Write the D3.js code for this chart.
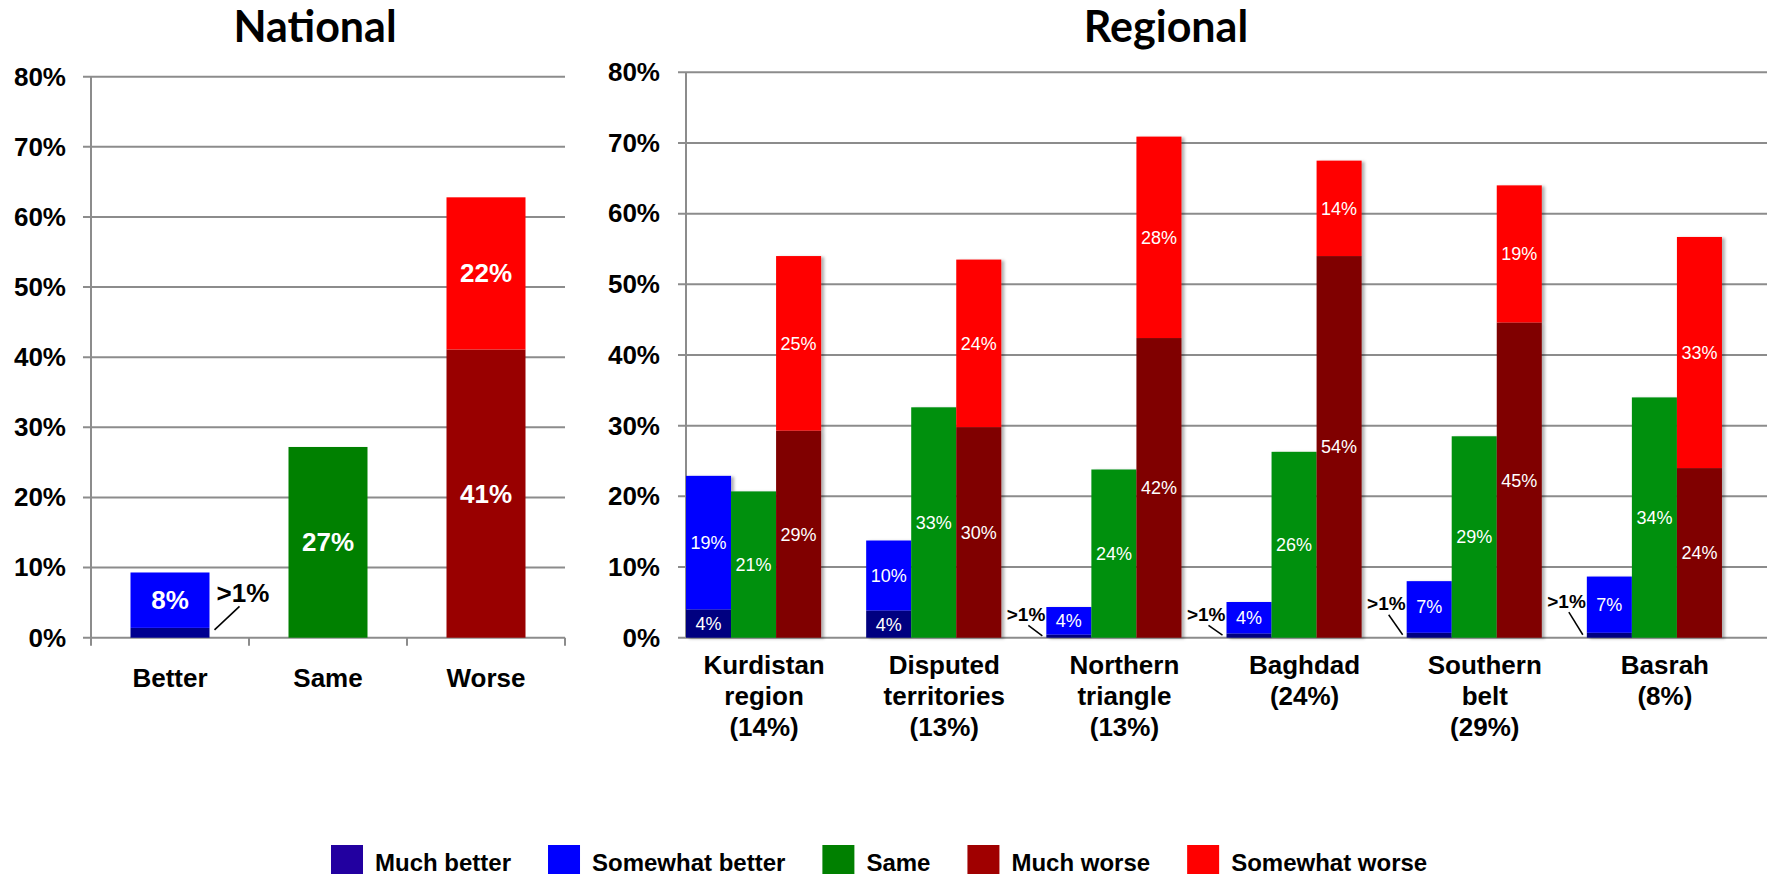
<!DOCTYPE html>
<html><head><meta charset="utf-8">
<script src="https://cdn.jsdelivr.net/npm/d3@7"></script>
<style>body{margin:0;background:#fff}svg{display:block}</style>
</head><body><svg id="chart" width="1771" height="874"></svg>
<script>
// ---------------- data ----------------
const seriesNames = ["Much better", "Somewhat better", "Same", "Much worse", "Somewhat worse"];
const yTicks = [0, 10, 20, 30, 40, 50, 60, 70, 80];

// National
const nationalCategories = ["Better", "Same", "Worse"];
const nationalSeriesCategory = ["Better", "Better", "Same", "Worse", "Worse"];
const nationalValues = [1.4, 7.9, 27.2, 41.1, 21.7];
const nationalLabels = [">1%", "8%", "27%", "41%", "22%"];

// Regional
const regionLines = [["Kurdistan", "region", "(14%)"], ["Disputed", "territories", "(13%)"], ["Northern", "triangle", "(13%)"], ["Baghdad", "(24%)"], ["Southern", "belt", "(29%)"], ["Basrah", "(8%)"]];
const regions = regionLines.map(l => l.join(" "));
const regMuchBetter = [4.0, 3.85, 0.44, 0.6, 0.7, 0.7];
const regSomewhatBetter = [18.9, 9.9, 3.9, 4.45, 7.3, 7.95];
const regSame = [20.7, 32.6, 23.8, 26.3, 28.5, 34.0];
const regMuchWorse = [29.3, 29.8, 42.4, 54.0, 44.6, 24.0];
const regSomewhatWorse = [24.7, 23.7, 28.5, 13.5, 19.4, 32.7];
const regMuchBetterLabels = ["4%", "4%", ">1%", ">1%", ">1%", ">1%"];
const regSomewhatBetterLabels = ["19%", "10%", "4%", "4%", "7%", "7%"];
const regSameLabels = ["21%", "33%", "24%", "26%", "29%", "34%"];
const regMuchWorseLabels = ["29%", "30%", "42%", "54%", "45%", "24%"];
const regSomewhatWorseLabels = ["25%", "24%", "28%", "14%", "19%", "33%"];

// ---------------- styles ----------------
const natColors = ["#000090", "#0000FF", "#008000", "#990000", "#FF0000"];
const regColors = ["#000080", "#0000FF", "#009010", "#800000", "#FF0000"];
const legendColors = ["#2200A0", "#0000FF", "#008000", "#A00000", "#FF0000"];
const gridColor = "#8c8c8c";
const boldFont = "'Liberation Sans', Arial, sans-serif";
const titleFont = "Lato, 'Open Sans', sans-serif";

const svg = d3.select("#chart");
svg.append("rect").attr("width", 1771).attr("height", 874).attr("fill", "#fff");

const defs = svg.append("defs");
const f = defs.append("filter").attr("id", "shadow").attr("x", "-10%").attr("y", "-10%").attr("width", "130%").attr("height", "130%");
f.append("feDropShadow").attr("dx", 3).attr("dy", 1).attr("stdDeviation", 1.5).attr("flood-color", "#000").attr("flood-opacity", 0.3);

// ---------------- helpers ----------------
function drawYAxis(g, y, x0, x1, padding) {
  g.append("g").selectAll("line").data(yTicks).join("line")
    .attr("x1", x0 - 8).attr("x2", x1)
    .attr("y1", d => y(d)).attr("y2", d => y(d))
    .attr("stroke", gridColor).attr("stroke-width", 2);
  const ax = g.append("g").attr("transform", `translate(${x0},0)`)
    .call(d3.axisLeft(y).tickValues(yTicks).tickFormat(d => d + "%").tickSize(0).tickPadding(padding));
  ax.select(".domain").remove();
  ax.selectAll("text").attr("font-family", boldFont).attr("font-weight", "bold")
    .attr("font-size", 26).attr("fill", "#000");
  g.append("line").attr("x1", x0).attr("x2", x0).attr("y1", y(80)).attr("y2", y(0))
    .attr("stroke", gridColor).attr("stroke-width", 2);
}

// ---------------- National ----------------
const yN = d3.scaleLinear().domain([0, 80]).range([637.7, 76.7]);
const xN = d3.scaleBand().domain(nationalCategories).range([91, 565]);
const gN = svg.append("g");
drawYAxis(gN, yN, 91, 565, 25);
const natBounds = nationalCategories.map(c => xN(c)).concat([xN.range()[1]]);
gN.append("g").selectAll("line").data(natBounds).join("line")
  .attr("x1", d => d).attr("x2", d => d).attr("y1", yN(0)).attr("y2", yN(0) + 8)
  .attr("stroke", gridColor).attr("stroke-width", 2);

const natBarW = xN.bandwidth() * 0.5;
const natCum = {};
const natSegs = nationalValues.map((v, i) => {
  const c = nationalSeriesCategory[i];
  const base = natCum[c] || 0;
  natCum[c] = base + v;
  return { cat: c, y0: base, y1: base + v, color: natColors[i], label: nationalLabels[i], series: seriesNames[i] };
});
gN.append("g").selectAll("rect").data(natSegs).join("rect")
  .attr("x", d => xN(d.cat) + (xN.bandwidth() - natBarW) / 2)
  .attr("width", natBarW)
  .attr("y", d => yN(d.y1)).attr("height", d => yN(d.y0) - yN(d.y1))
  .attr("fill", d => d.color);
gN.append("g").selectAll("text").data(natSegs.filter(d => d.label !== ">1%")).join("text")
  .attr("x", d => xN(d.cat) + xN.bandwidth() / 2)
  .attr("y", d => yN((d.y0 + d.y1) / 2) + 9)
  .attr("text-anchor", "middle").attr("font-family", boldFont).attr("font-weight", "bold")
  .attr("font-size", 26).attr("fill", "#fff").text(d => d.label);
natSegs.filter(d => d.label === ">1%").forEach(d => {
  const right = xN(d.cat) + (xN.bandwidth() + natBarW) / 2;
  const total = natCum[d.cat];
  gN.append("text").attr("x", right + 7).attr("y", yN(total * 0.55))
    .attr("font-family", boldFont).attr("font-weight", "bold").attr("font-size", 26)
    .attr("fill", "#000").text(d.label);
  gN.append("line").attr("x1", right + 5).attr("y1", yN(d.y1 * 0.8))
    .attr("x2", right + 30).attr("y2", yN(total * 0.48))
    .attr("stroke", "#000").attr("stroke-width", 1.6);
});
gN.append("g").selectAll("text").data(nationalCategories).join("text")
  .attr("x", d => xN(d) + xN.bandwidth() / 2).attr("y", 686.7)
  .attr("text-anchor", "middle").attr("font-family", boldFont).attr("font-weight", "bold")
  .attr("font-size", 26).attr("fill", "#000").text(d => d);
svg.append("text").attr("x", 315).attr("y", 41.7).attr("text-anchor", "middle")
  .attr("font-family", titleFont).attr("font-weight", "bold").attr("font-size", 43).text("National");

// ---------------- Regional ----------------
const yR = d3.scaleLinear().domain([0, 80]).range([637.7, 72.3]);
const xR = d3.scaleBand().domain(regions).range([686, 1767]);
const slot = d3.scaleBand().domain(["better", "same", "worse", "gap"]).range([0, xR.bandwidth()]);
const gR = svg.append("g");
drawYAxis(gR, yR, 686, 1767, 26);

const regSegs = [];
regions.forEach((r, i) => {
  const mb = regMuchBetter[i], sb = regSomewhatBetter[i], sm = regSame[i], mw = regMuchWorse[i], sw = regSomewhatWorse[i];
  regSegs.push({ r, slot: "better", y0: 0, y1: mb, color: regColors[0], label: regMuchBetterLabels[i] });
  regSegs.push({ r, slot: "better", y0: mb, y1: mb + sb, color: regColors[1], label: regSomewhatBetterLabels[i] });
  regSegs.push({ r, slot: "same", y0: 0, y1: sm, color: regColors[2], label: regSameLabels[i] });
  regSegs.push({ r, slot: "worse", y0: 0, y1: mw, color: regColors[3], label: regMuchWorseLabels[i] });
  regSegs.push({ r, slot: "worse", y0: mw, y1: mw + sw, color: regColors[4], label: regSomewhatWorseLabels[i] });
});
gR.append("g").attr("filter", "url(#shadow)").selectAll("rect").data(regSegs).join("rect")
  .attr("x", d => xR(d.r) + slot(d.slot)).attr("width", slot.bandwidth())
  .attr("y", d => yR(d.y1)).attr("height", d => yR(d.y0) - yR(d.y1))
  .attr("fill", d => d.color);
gR.append("g").selectAll("text").data(regSegs.filter(d => d.label !== ">1%")).join("text")
  .attr("x", d => xR(d.r) + slot(d.slot) + slot.bandwidth() / 2)
  .attr("y", d => yR((d.y0 + d.y1) / 2) + 6.5)
  .attr("text-anchor", "middle").attr("font-family", boldFont)
  .attr("font-size", 18).attr("fill", "#fff").text(d => d.label);
regSegs.filter(d => d.label === ">1%").forEach(d => {
  const i = regions.indexOf(d.r);
  const start = xR(d.r);
  const blueTotal = regMuchBetter[i] + regSomewhatBetter[i];
  const level = Math.max(3.3, blueTotal * 0.6);
  gR.append("text").attr("x", start - 1).attr("y", yR(level) + 6.5).attr("text-anchor", "end")
    .attr("font-family", boldFont).attr("font-weight", "bold").attr("font-size", 19)
    .attr("fill", "#000").text(d.label);
  gR.append("line").attr("x1", start - 18).attr("y1", yR(level) + 11)
    .attr("x2", start - 4).attr("y2", yR(d.y1 * 0.6))
    .attr("stroke", "#000").attr("stroke-width", 1.5);
});
const catG = gR.append("g").selectAll("text").data(regions).join("text")
  .attr("text-anchor", "middle").attr("font-family", boldFont).attr("font-weight", "bold")
  .attr("font-size", 26).attr("fill", "#000");
catG.each(function (d, i) {
  const t = d3.select(this);
  regionLines[i].forEach((line, k) => {
    t.append("tspan").attr("x", xR(d) + xR.bandwidth() / 2 - 12).attr("y", 674 + k * 31).text(line);
  });
});
svg.append("text").attr("x", 1166).attr("y", 41.7).attr("text-anchor", "middle")
  .attr("font-family", titleFont).attr("font-weight", "bold").attr("font-size", 43).text("Regional");

// ---------------- Legend ----------------
const lg = svg.append("g");
let lx = 331;
seriesNames.forEach((name, i) => {
  lg.append("rect").attr("x", lx).attr("y", 845).attr("width", 32).attr("height", 32).attr("fill", legendColors[i]);
  const t = lg.append("text").attr("x", lx + 44).attr("y", 870.5)
    .attr("font-family", boldFont).attr("font-weight", "bold").attr("font-size", 24)
    .attr("fill", "#000").text(name);
  lx = lx + 44 + t.node().getComputedTextLength() + 37;
});
</script>
</body></html>
